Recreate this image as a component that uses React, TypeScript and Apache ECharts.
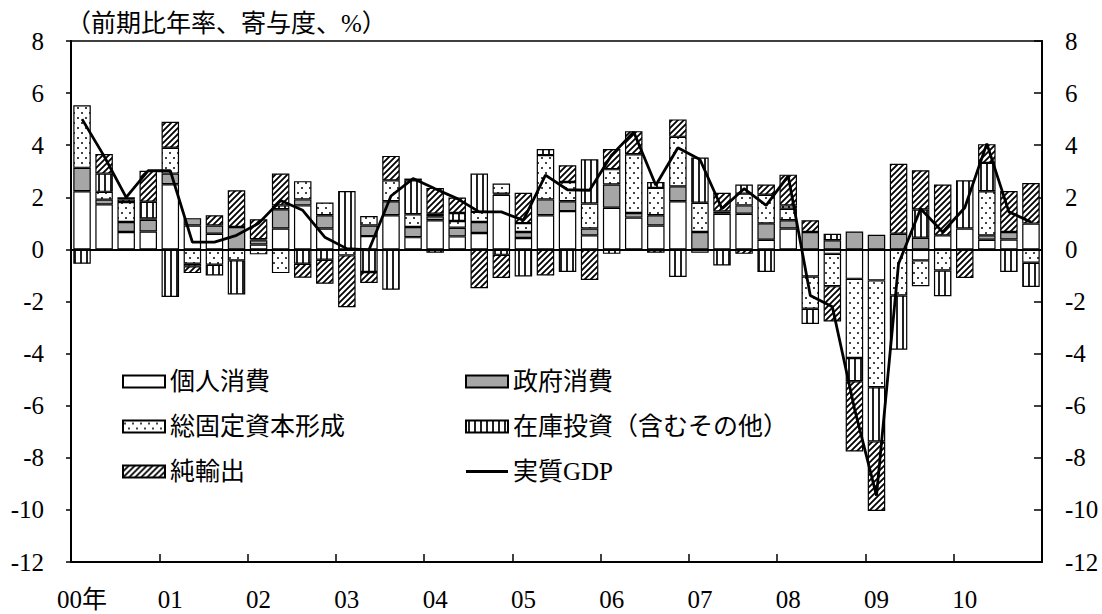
import React, { useEffect, useRef } from 'react';
import * as echarts from 'echarts';

// ---- data ----
const yearLabels = ['00年', '01', '02', '03', '04', '05', '06', '07', '08', '09', '10'];
const quarterNames = ['Q1', 'Q2', 'Q3', 'Q4'];
const categories = yearLabels.flatMap((_, i) => quarterNames.map((q) => `${2000 + i}${q}`));

const privateConsumption = [
  2.23, 1.73, 0.67, 0.69, 2.5, 0.92, 0.6, 0, 0.19, 0.8, 1.69, 0.8,
  0, 0.51, 1.31, 0.47, 1.12, 0.5, 0.63, 2.1, 0.44, 1.31, 1.47, 0.54,
  1.6, 1.22, 0.92, 1.85, -0.13, 1.37, 1.37, 0.37, 0.8, -1.04, -0.17, -1.13,
  -1.19, 0, -0.42, 0.54, 0.8, 0.37, 0.38, 0.99,
];
const governmentConsumption = [
  0.9, 0.18, 0.38, 0.45, 0.41, 0.28, 0.32, 0.86, 0.16, 0.74, 0.23, 0.51,
  0, 0.41, 0.54, 0.39, 0.15, 0.33, 0.42, 0.04, 0.23, 0.61, 0.38, 0.26,
  0.89, 0.18, 0.39, 0.57, 0.67, 0.09, 0.32, 0.63, 0.32, 0.67, 0.35, 0.69,
  0.56, 0.6, 0.45, 0, 0, 0.17, 0.29, 0,
];
const fixedCapital = [
  2.4, 0.3, 0.77, 0.05, 0.99, -0.55, -0.59, -0.42, -0.19, -0.91, 0.7, 0.49,
  -0.23, 0.36, 0.8, 0.49, 0.1, 0.26, 0.39, 0.39, 0.34, 1.7, 0.74, 0.96,
  0.59, 2.25, 1.05, 1.9, 1.12, 0, 0.45, 1.1, 0.44, -1.24, -1.24, -3.04,
  -4.1, -1.77, -0.99, -0.81, 0, 1.69, 0, -0.51,
];
const inventory = [
  -0.55, 0.7, 0.1, 0.64, -1.83, -0.1, -0.41, -1.31, 0.04, 0.15, -0.55, -0.4,
  2.24, -0.87, -1.55, 1.3, -0.13, 0.31, 1.47, -0.21, -1.04, 0.23, -0.87, 1.7,
  -0.17, -0.06, 0.23, -1.06, 1.74, -0.62, 0.35, -0.87, 0.13, -0.58, 0.25, -0.89,
  -2.08, -2.08, 1.08, -0.99, 1.85, 1.09, -0.87, -0.93,
];
const netExports = [
  0, 0.75, 0.08, 1.19, 1.0, -0.26, 0.39, 1.41, 0.77, 1.22, -0.54, -0.92,
  -1.99, -0.42, 0.94, 0.07, 0.99, 0.59, -1.49, -0.89, 1.16, -1.0, 0.64, -1.17,
  0.77, 0.89, -0.13, 0.67, 0, 0.71, -0.17, 0.39, 1.18, 0.45, -1.36, -2.7,
  -2.67, 2.69, 1.51, 1.95, -1.1, 0.72, 1.57, 1.56,
];
const realGDP = [
  5.0, 3.58, 2.0, 3.02, 3.02, 0.28, 0.28, 0.54, 1.0, 1.88, 1.5, 0.47,
  0.03, -0.02, 2.05, 2.72, 2.33, 1.95, 1.44, 1.44, 1.12, 2.85, 2.29, 2.27,
  3.62, 4.51, 2.46, 3.9, 3.45, 1.56, 2.33, 1.69, 2.82, -1.77, -2.2, -6.1,
  -9.45, -0.55, 1.56, 0.67, 1.6, 4.06, 1.44, 1.05,
];

const FONT = "'Liberation Serif', 'Noto Sans CJK JP', serif";

function makeTile(w: number, h: number, draw: (ctx: CanvasRenderingContext2D) => void) {
  const c = document.createElement('canvas');
  c.width = w;
  c.height = h;
  const ctx = c.getContext('2d')!;
  ctx.fillStyle = '#ffffff';
  ctx.fillRect(0, 0, w, h);
  draw(ctx);
  return { image: c.toDataURL(), repeat: 'repeat', imageWidth: w, imageHeight: h } as any;
}

export default function App() {
  const ref = useRef<HTMLDivElement>(null);

  useEffect(() => {
    const el = ref.current!;
    const chart = echarts.init(el, null, { renderer: 'svg' });

    const dotPattern = makeTile(8, 10, (ctx) => {
      ctx.fillStyle = '#444';
      ctx.fillRect(1, 2, 2, 2);
      ctx.fillRect(5, 7, 2, 2);
    });
    const vlinePattern = makeTile(6, 4, (ctx) => {
      ctx.fillStyle = '#222';
      ctx.fillRect(2, 0, 2, 4);
    });
    const hatchPattern = makeTile(6, 6, (ctx) => {
      ctx.strokeStyle = '#000';
      ctx.lineWidth = 1.8;
      ctx.beginPath();
      ctx.moveTo(-1, 1); ctx.lineTo(1, -1);
      ctx.moveTo(-1, 7); ctx.lineTo(7, -1);
      ctx.moveTo(5, 7); ctx.lineTo(7, 5);
      ctx.stroke();
    });

    const clean = (arr: number[]) => arr.map((v) => (v === 0 ? null : v));
    const barBase = (name: string, data: number[], color: any) => ({
      name,
      type: 'bar',
      stack: 'total',
      data: clean(data),
      barWidth: 17.5,
      itemStyle: { color, borderColor: '#000', borderWidth: 1.2 },
      emphasis: { disabled: true },
    });

    const textStyle = { fontSize: 25, color: '#000', fontFamily: FONT };
    const legendCommon = {
      orient: 'vertical',
      top: 369,
      itemWidth: 42,
      itemHeight: 12,
      itemGap: 20,
      padding: 0,
      selectedMode: false,
      textStyle,
    };

    chart.setOption({
      animation: false,
      backgroundColor: '#fff',
      title: {
        text: '（前期比年率、寄与度、%）',
        left: 66,
        top: 11,
        padding: 0,
        textStyle: { ...textStyle, fontWeight: 'normal' },
      },
      legend: [
        {
          ...legendCommon,
          left: 122,
          data: [
            { name: '個人消費', icon: 'rect' },
            { name: '総固定資本形成', icon: 'rect' },
            { name: '純輸出', icon: 'rect' },
          ],
        },
        {
          ...legendCommon,
          left: 465,
          data: [
            { name: '政府消費', icon: 'rect' },
            { name: '在庫投資（含むその他）', icon: 'rect' },
            { name: '実質GDP', icon: 'path://M0,0H42V3H0Z' },
          ],
        },
      ],
      grid: {
        left: 71,
        right: 60,
        top: 41,
        bottom: 52,
        show: true,
        borderColor: '#000',
        borderWidth: 1.5,
        backgroundColor: 'transparent',
      },
      xAxis: {
        type: 'category',
        data: categories,
        axisLine: { show: true, onZero: false, lineStyle: { color: '#000', width: 2 } },
        axisTick: { show: true, inside: true, length: 8, interval: 3, lineStyle: { color: '#000', width: 1.5 } },
        axisLabel: {
          interval: 3,
          margin: 25,
          ...textStyle,
          formatter: (_v: string, i: number) => yearLabels[Math.floor(i / 4)],
        },
        splitLine: { show: false },
      },
      yAxis: [
        {
          type: 'value',
          position: 'left',
          min: -12,
          max: 8,
          interval: 2,
          axisLine: { show: true, lineStyle: { color: '#000', width: 2 } },
          axisTick: { show: true, length: 5, lineStyle: { color: '#000', width: 1.5 } },
          axisLabel: { margin: 27, ...textStyle },
          splitLine: { show: false },
        },
        {
          type: 'value',
          position: 'right',
          min: -12,
          max: 8,
          interval: 2,
          axisLine: { show: true, lineStyle: { color: '#000', width: 2 } },
          axisTick: { show: true, inside: true, length: 8, lineStyle: { color: '#000', width: 1.5 } },
          axisLabel: { margin: 23, ...textStyle },
          splitLine: { show: false },
        },
      ],
      series: [
        barBase('個人消費', privateConsumption, '#ffffff'),
        barBase('政府消費', governmentConsumption, '#a6a6a6'),
        barBase('総固定資本形成', fixedCapital, dotPattern),
        barBase('在庫投資（含むその他）', inventory, vlinePattern),
        barBase('純輸出', netExports, hatchPattern),
        {
          name: '実質GDP',
          type: 'line',
          data: realGDP,
          symbol: 'none',
          z: 5,
          lineStyle: { color: '#000', width: 2.8 },
          itemStyle: { color: '#000' },
          emphasis: { disabled: true },
          markLine: {
            silent: true,
            symbol: ['none', 'none'],
            label: { show: false },
            lineStyle: { color: '#000', width: 2, type: 'solid' },
            emphasis: { disabled: true },
            data: [{ yAxis: 0 }],
          },
        },
      ],
    });

    return () => chart.dispose();
  }, []);

  return (
    <div
      ref={ref}
      style={{ position: 'fixed', left: 0, top: 0, width: 1102, height: 614, background: '#fff' }}
    />
  );
}
